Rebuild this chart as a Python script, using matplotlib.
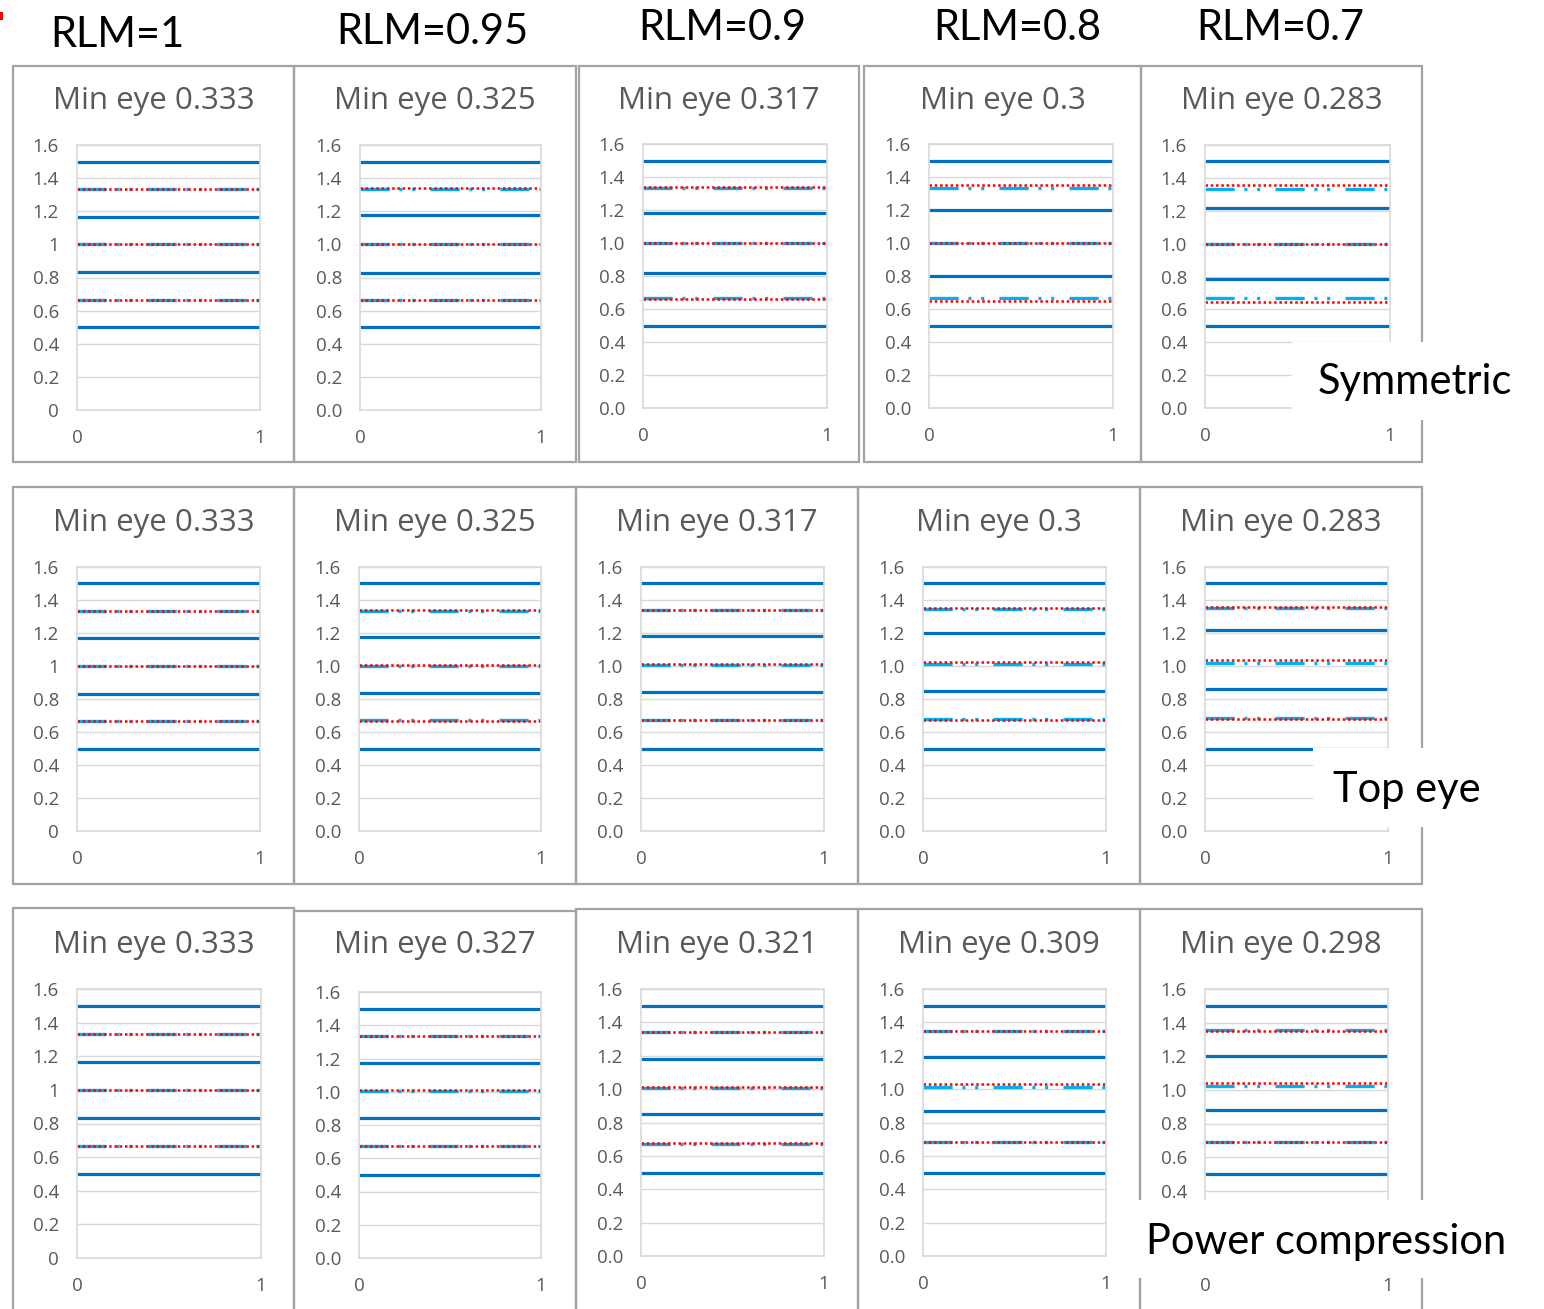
import matplotlib
matplotlib.use("Agg")
import matplotlib.pyplot as plt
from matplotlib.patches import Rectangle

# ---------------------------------------------------------------- data
RLM_LABELS = ["RLM=1", "RLM=0.95", "RLM=0.9", "RLM=0.8", "RLM=0.7"]
ROW_NAMES = ["Symmetric", "Top eye", "Power compression"]

MIN_EYE_SYM = [0.333, 0.325, 0.317, 0.3, 0.283]
MIN_EYE_TOP = [0.333, 0.325, 0.317, 0.3, 0.283]
MIN_EYE_PWR = [0.333, 0.327, 0.321, 0.309, 0.298]

# PAM4 signal levels (solid lines)
SYM_LEVELS = [[0.5, 0.833, 1.167, 1.5], [0.5, 0.825, 1.175, 1.5], [0.5, 0.817, 1.183, 1.5],
              [0.5, 0.8, 1.2, 1.5], [0.5, 0.783, 1.217, 1.5]]
TOP_LEVELS = [[0.5, 0.833, 1.167, 1.5], [0.5, 0.838, 1.175, 1.5], [0.5, 0.842, 1.183, 1.5],
              [0.5, 0.85, 1.2, 1.5], [0.5, 0.858, 1.217, 1.5]]
PWR_LEVELS = [[0.5, 0.833, 1.167, 1.5], [0.5, 0.842, 1.173, 1.5], [0.5, 0.850, 1.179, 1.5],
              [0.5, 0.867, 1.191, 1.5], [0.5, 0.883, 1.202, 1.5]]

# thresholds around the mean level (cyan dash-dot-dot)
SYM_MEAN_THR = [[0.667, 1.0, 1.333], [0.667, 1.0, 1.333], [0.667, 1.0, 1.333],
                [0.667, 1.0, 1.333], [0.667, 1.0, 1.333]]
TOP_MEAN_THR = [[0.667, 1.0, 1.333], [0.670, 1.003, 1.336], [0.673, 1.006, 1.340],
                [0.679, 1.013, 1.346], [0.685, 1.019, 1.352]]
PWR_MEAN_THR = [[0.667, 1.0, 1.333], [0.671, 1.004, 1.337], [0.674, 1.007, 1.341],
                [0.681, 1.015, 1.348], [0.688, 1.021, 1.354]]

# mid-eye thresholds (red dotted)
SYM_MID_THR = [[0.667, 1.0, 1.333], [0.663, 1.0, 1.338], [0.658, 1.0, 1.342],
               [0.65, 1.0, 1.35], [0.642, 1.0, 1.358]]
TOP_MID_THR = [[0.667, 1.0, 1.333], [0.669, 1.006, 1.338], [0.671, 1.013, 1.342],
               [0.675, 1.025, 1.35], [0.679, 1.038, 1.358]]
PWR_MID_THR = [[0.667, 1.0, 1.333], [0.671, 1.008, 1.337], [0.675, 1.015, 1.340],
               [0.684, 1.029, 1.346], [0.692, 1.043, 1.351]]

X_SPAN = [0, 1]
Y_TICKS = [0, 0.2, 0.4, 0.6, 0.8, 1.0, 1.2, 1.4, 1.6]

ROWS = [
    (MIN_EYE_SYM, SYM_LEVELS, SYM_MEAN_THR, SYM_MID_THR),
    (MIN_EYE_TOP, TOP_LEVELS, TOP_MEAN_THR, TOP_MID_THR),
    (MIN_EYE_PWR, PWR_LEVELS, PWR_MEAN_THR, PWR_MID_THR),
]

# ---------------------------------------------------------------- layout (pixels)
W, H = 1544, 1309
plt.rcParams["lines.scale_dashes"] = False

fig = plt.figure(figsize=(W / 100, H / 100), dpi=100)
fig.patch.set_facecolor("white")


def fx(x):
    return x / W


def fy(y):
    return 1 - y / H


# chart frames: (x0, x1, y0, y1)
FRAMES = [
    [(13, 294, 66, 462), (294, 576, 66, 462), (579, 859, 66, 462), (864, 1141, 66, 462), (1141, 1422, 66, 462)],
    [(13, 294, 487, 884), (294, 576, 487, 884), (576, 858, 487, 884), (858, 1140, 487, 884), (1140, 1422, 487, 884)],
    [(13, 294, 908, 1320), (294, 576, 911, 1320), (576, 858, 909, 1320), (858, 1140, 909, 1320), (1140, 1422, 909, 1320)],
]
# plot areas: (left, right, top(1.6), bottom(0))
PLOTS = [
    [(77, 260, 145, 410), (360, 541, 145, 410), (643, 827, 144, 408), (929, 1113, 144, 408), (1205, 1390, 145, 408)],
    [(77, 260, 567, 831), (359, 541, 567, 831), (641, 824, 567, 831), (923, 1106, 567, 831), (1205, 1388, 567, 831)],
    [(77, 261, 989, 1258), (359, 541, 992, 1258), (641, 824, 989, 1256), (923, 1106, 989, 1256), (1205, 1388, 989, 1258)],
]
TITLE_Y = [101, 523, 945]

TXT_GRAY = "#595959"
GRID = "#d9d9d9"
FRAME = "#a3a3a3"
BLUE = "#0070C0"
CYAN = "#00B0F0"
RED = "#FF0000"
TICK_FONT = "Open Sans"
LABEL_FONT = "Lato"

for r, (min_eye, levels, mean_thr, mid_thr) in enumerate(ROWS):
    for c in range(5):
        x0, x1, y0, y1 = FRAMES[r][c]
        fig.patches.append(Rectangle((fx(x0), fy(y1)), fx(x1 - x0), (y1 - y0) / H,
                                     transform=fig.transFigure, fill=False,
                                     edgecolor=FRAME, linewidth=1.6, zorder=1))
        fig.text(fx((x0 + x1) / 2), fy(TITLE_Y[r]), f"Min eye {min_eye[c]:g}",
                 ha="center", va="center", fontsize=22.5, color=TXT_GRAY,
                 family=TICK_FONT)

        pl, pr, pt, pb = PLOTS[r][c]
        ax = fig.add_axes([fx(pl), fy(pb), fx(pr - pl), (pb - pt) / H])
        ax.set_xlim(0, 1)
        ax.set_ylim(0, 1.6)
        ax.set_xticks([0, 1])
        ax.set_xticklabels(["0", "1"])
        ax.set_yticks(Y_TICKS)
        if c == 0:
            ylabels = [f"{v:g}" for v in Y_TICKS]
        else:
            ylabels = [f"{v:.1f}" for v in Y_TICKS]
        if r == 2 and c == 4:
            # the two lowest labels sit under the row-name box
            ylabels[0] = ""
            ylabels[1] = ""
        ax.set_yticklabels(ylabels)
        ax.tick_params(length=0, labelsize=13.5, labelcolor=TXT_GRAY)
        ax.tick_params(axis="y", pad=13)
        ax.tick_params(axis="x", pad=14)
        for lab in ax.get_xticklabels() + ax.get_yticklabels():
            lab.set_family(TICK_FONT)
        ax.grid(axis="y", color=GRID, linewidth=1.0)
        ax.set_axisbelow(True)
        for sp in ax.spines.values():
            sp.set_color(GRID)
            sp.set_linewidth(1.2)

        for lv in levels[c]:
            ax.plot(X_SPAN, [lv, lv], color=BLUE, linewidth=2.3, solid_capstyle="butt")
        for th in mean_thr[c]:
            ax.plot(X_SPAN, [th, th], color=CYAN, linewidth=2.4,
                    dashes=(21.0, 7.0, 2.2, 7.0, 2.2, 11.0), dash_capstyle="butt")
        for th in mid_thr[c]:
            ax.plot(X_SPAN, [th, th], color=RED, linewidth=1.8,
                    dashes=(1.8, 2.0), dash_capstyle="butt")

# column headers
HEADER_X = [117, 432, 722, 1017, 1280]
HEADER_Y = [35, 32, 28, 28, 28]
for lab, hx, hy in zip(RLM_LABELS, HEADER_X, HEADER_Y):
    fig.text(fx(hx), fy(hy), lab, ha="center", va="center", fontsize=30,
             color="black", family=LABEL_FONT)

# row names on white boxes
NAME_BOXES = [(1292, 1532, 342, 420), (1313, 1532, 748, 827), (1128, 1536, 1200, 1278)]
NAME_POS = [(1415, 382), (1407, 790), (1326, 1242)]
for name, (bx0, bx1, by0, by1), (tx, ty) in zip(ROW_NAMES, NAME_BOXES, NAME_POS):
    fig.patches.append(Rectangle((fx(bx0), fy(by1)), fx(bx1 - bx0), (by1 - by0) / H,
                                 transform=fig.transFigure, facecolor="white",
                                 edgecolor="none", zorder=10))
    fig.text(fx(tx), fy(ty), name, ha="center", va="center", fontsize=30,
             color="black", family=LABEL_FONT, zorder=11)

# small red mark at the top-left corner
fig.patches.append(Rectangle((0, fy(20)), fx(3), 8 / H, transform=fig.transFigure,
                             facecolor=RED, edgecolor="none", zorder=5))

fig.savefig("out.png", dpi=100, facecolor="white")
